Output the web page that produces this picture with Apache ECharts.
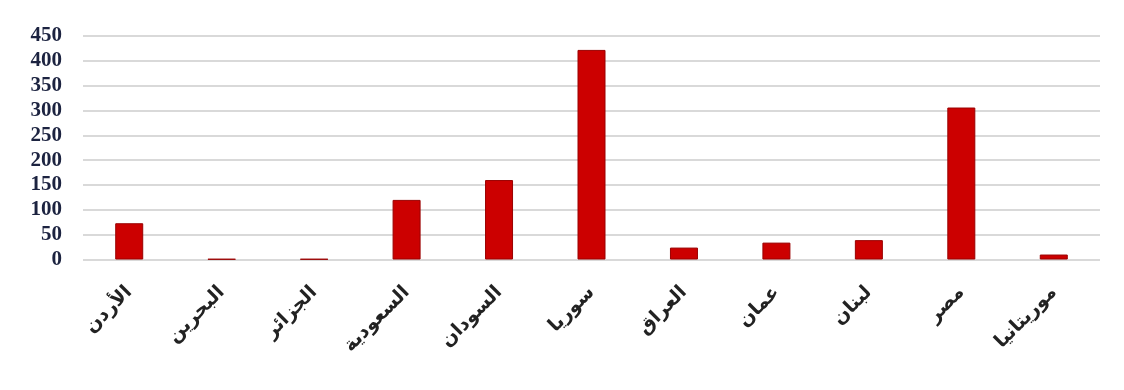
<!DOCTYPE html>
<html><head><meta charset="utf-8">
<script src="https://cdn.jsdelivr.net/npm/echarts@6/dist/echarts.min.js"></script>
<style>html,body{margin:0;padding:0;background:#fff}#c{width:1124px;height:390px}</style>
</head><body><div id="c"></div>
<script>
const categories = ['الأردن','البحرين','الجزائر','السعودية','السودان','سوريا','العراق','عمان','لبنان','مصر','موريتانيا'];
const values = [73, 1, 1, 120, 160, 422, 24, 34, 39, 306, 10];
const yTicks = [0, 50, 100, 150, 200, 250, 300, 350, 400, 450];

const chart = echarts.init(document.getElementById('c'), null, {renderer:'canvas'});
chart.setOption({
  animation: false,
  backgroundColor: '#ffffff',
  grid: {left: 83, right: 24, top: 36, bottom: 130.5, containLabel: false},
  xAxis: {
    type: 'category',
    data: categories,
    axisLine: {show: false},
    axisTick: {show: false},
    axisLabel: {
      rotate: 45, interval: 0, margin: 30,
      fontFamily: 'DejaVu Sans', fontWeight: 'bold', fontSize: 19, color: '#222'
    }
  },
  yAxis: {
    type: 'value',
    min: yTicks[0], max: yTicks[yTicks.length-1], interval: 50,
    axisLine: {show: false},
    axisTick: {show: false},
    splitLine: {lineStyle: {color: '#d9d9d9', width: 2}},
    axisLabel: {
      margin: 21, fontFamily: 'Liberation Serif', fontWeight: 'bold', fontSize: 21, color: '#1c2340',
      formatter: v => yTicks.includes(v) ? String(v) : ''
    }
  },
  series: [{
    type: 'bar',
    data: values,
    barWidth: 28,
    itemStyle: {color: '#cc0000', borderColor: '#9a0000', borderWidth: 1}
  }]
});
</script></body></html>
